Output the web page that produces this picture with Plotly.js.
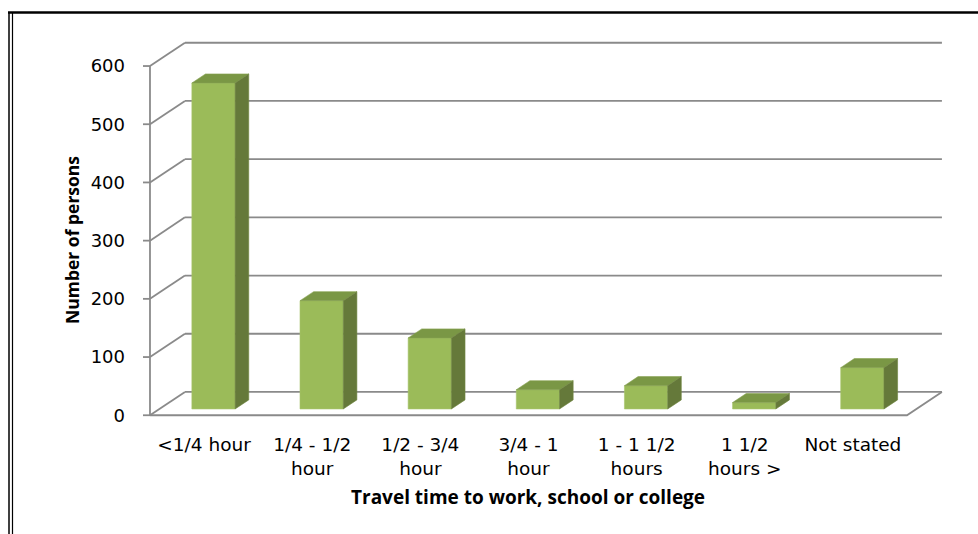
<!DOCTYPE html>
<html><head><meta charset="utf-8">
<script src="https://cdn.plot.ly/plotly-3.0.1.min.js"></script>
<style>html,body{margin:0;padding:0;background:#fff;} #chart{width:978px;height:534px;}</style>
</head><body><div id="chart"></div>
<script>
// ---- data ----
const categories = ['&lt;1/4 hour', '1/4 - 1/2<br>hour', '1/2 - 3/4<br>hour', '3/4 - 1<br>hour', '1 - 1 1/2<br>hours', '1 1/2<br>hours &gt;', 'Not stated'];
const values = [560, 186, 122, 33, 40, 11, 71];
const yTicks = [0, 100, 200, 300, 400, 500, 600];
const yTickText = ['0', '100', '200', '300', '400', '500', '600'];
const xTitle = 'Travel time to work, school or college';
const yTitle = 'Number of persons';

// ---- 3D projection settings (oblique) ----
const DX = 0.3232;   // depth offset in category units
const DY = 40;       // depth offset in value units
const F0 = 0.27;     // front face of bars at this depth fraction
const FD = 0.39;     // bar depth fraction
const BW = 0.40;     // bar width (category units)
const N = categories.length;
const yMax = yTicks[yTicks.length - 1];

const W = 978, H = 534;
const M = {l: 143, r: 35, t: 41, b: 117};
const plotW = W - M.l - M.r, plotH = H - M.t - M.b;
const PX = px => (px - M.l) / plotW;
const PY = py => (H - M.b - py) / plotH;

const gridColor = '#8a8a8a';
const traces = [];

// walls / gridlines
const gx = [], gy = [];
yTicks.forEach(t => {
  gx.push(DX, N + DX, null); gy.push(t + DY, t + DY, null);      // back wall
  gx.push(0, DX, null); gy.push(t, t + DY, null);                 // side wall diagonal
  gx.push(-0.0646, 0, null); gy.push(t, t, null);                 // tick mark
});
gx.push(0, 0, null); gy.push(0, yMax, null);                      // front axis
gx.push(0, N, N + DX, null); gy.push(0, 0, DY, null);             // floor edges
traces.push({x: gx, y: gy, mode: 'lines', line: {color: gridColor, width: 1.8}, hoverinfo: 'skip', showlegend: false});

// bars
const fx = [], fy = [], tx = [], ty = [], sx = [], sy = [];
values.forEach((v, i) => {
  const xc = i + 0.5 + F0 * DX;
  const xl = xc - BW / 2, xr = xc + BW / 2;
  const b = F0 * DY, top = b + v;
  const ddx = FD * DX, ddy = FD * DY;
  fx.push(xl, xr, xr, xl, xl, null); fy.push(b, b, top, top, b, null);
  tx.push(xl, xr, xr + ddx, xl + ddx, xl, null); ty.push(top, top, top + ddy, top + ddy, top, null);
  sx.push(xr, xr + ddx, xr + ddx, xr, xr, null); sy.push(b, b + ddy, top + ddy, top, b, null);
});
traces.push({x: fx, y: fy, mode: 'lines', fill: 'toself', fillcolor: '#9BBB59', line: {color: '#a7c46c', width: 0.6}, hoverinfo: 'skip', showlegend: false});
traces.push({x: tx, y: ty, mode: 'lines', fill: 'toself', fillcolor: '#7A9745', line: {color: '#86a150', width: 0.6}, hoverinfo: 'skip', showlegend: false});
traces.push({x: sx, y: sy, mode: 'lines', fill: 'toself', fillcolor: '#65793A', line: {color: '#718641', width: 0.6}, hoverinfo: 'skip', showlegend: false});

const layout = {
  width: W, height: H, margin: M,
  paper_bgcolor: '#fff', plot_bgcolor: 'rgba(0,0,0,0)',
  showlegend: false, hovermode: false,
  font: {family: 'DejaVu Sans', size: 18, color: '#000'},
  xaxis: {
    range: [-0.0646, N + DX + 0.01], fixedrange: true,
    tickmode: 'array', tickvals: categories.map((c, i) => i + 0.5), ticktext: categories,
    ticks: '', showgrid: false, zeroline: false, showline: false,
    ticklabelstandoff: 14, tickfont: {family: 'DejaVu Sans', size: 18.5, color: '#000'}
  },
  yaxis: {
    range: [-3, 643], fixedrange: true,
    tickmode: 'array', tickvals: yTicks, ticktext: yTickText,
    ticks: '', showgrid: false, zeroline: false, showline: false,
    ticklabelstandoff: 17, tickfont: {family: 'DejaVu Sans', size: 18, color: '#000'}
  },
  annotations: [
    {text: '<b>' + xTitle + '</b>', xref: 'x', yref: 'paper', x: N / 2, y: PY(497), xanchor: 'center', yanchor: 'middle', showarrow: false,
     font: {family: 'Open Sans', size: 19, color: '#000'}},
    {text: '<b>' + yTitle + '</b>', xref: 'paper', yref: 'paper', x: PX(72), y: PY(240), xanchor: 'center', yanchor: 'middle', textangle: -90, showarrow: false,
     font: {family: 'Open Sans', size: 17.5, color: '#000'}}
  ],
  shapes: [
    {type: 'line', xref: 'paper', yref: 'paper', x0: PX(8), x1: PX(990), y0: PY(12.5), y1: PY(12.5), line: {color: '#000', width: 2.5}},
    {type: 'line', xref: 'paper', yref: 'paper', x0: PX(9), x1: PX(9), y0: PY(12), y1: PY(545), line: {color: '#000', width: 1.5}},
    {type: 'line', xref: 'paper', yref: 'paper', x0: PX(12.5), x1: PX(12.5), y0: PY(13), y1: PY(545), line: {color: '#000', width: 1.2}}
  ]
};

Plotly.newPlot('chart', traces, layout, {displayModeBar: false, staticPlot: true});
</script>
</body></html>
